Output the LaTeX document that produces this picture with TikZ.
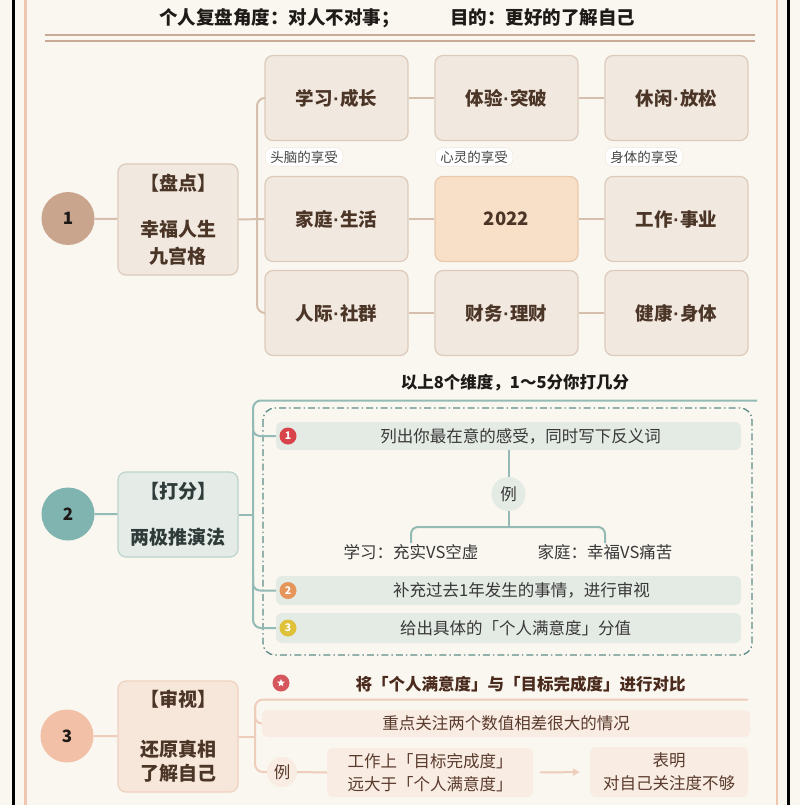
\documentclass[tikz,border=0pt]{standalone}
\usepackage{fontspec}
\setmainfont{Noto Sans CJK SC}
\newfontfamily\dotfont{Liberation Sans}
\newcommand\mdot{{\dotfont\bfseries\kern0.5pt·\kern0.5pt}}
\usetikzlibrary{arrows.meta,shapes.geometric,calc}
\definecolor{bgc}{HTML}{FAF7F0}
\definecolor{framepink}{HTML}{EFC6AF}
\definecolor{tanline}{HTML}{C9AB95}
\definecolor{gfill}{HTML}{F1E8DF}
\definecolor{gborder}{HTML}{DCCBBB}
\definecolor{pfill}{HTML}{F8DFC7}
\definecolor{pborder}{HTML}{E8C9AE}
\definecolor{btext}{HTML}{4B3527}
\definecolor{line1}{HTML}{D6BFAD}
\definecolor{circa}{HTML}{C9A58D}
\definecolor{circb}{HTML}{80B4B1}
\definecolor{circc}{HTML}{F2C0A6}
\definecolor{line2}{HTML}{93BAB5}
\definecolor{dash2}{HTML}{5F8D89}
\definecolor{fill2}{HTML}{E5ECE7}
\definecolor{border2}{HTML}{BCD3CE}
\definecolor{bar2}{HTML}{E4EAE4}
\definecolor{text2}{HTML}{383838}
\definecolor{boxtext2}{HTML}{2E3B39}
\definecolor{bred}{HTML}{D9434A}
\definecolor{borange}{HTML}{E6955B}
\definecolor{byellow}{HTML}{E0C13A}
\definecolor{fill3}{HTML}{F7E7DB}
\definecolor{border3}{HTML}{EFD1BF}
\definecolor{bar3}{HTML}{F8ECE3}
\definecolor{line3}{HTML}{EFCDBB}
\definecolor{text3}{HTML}{5A3A2C}
\definecolor{title3}{HTML}{4A2A1C}
\definecolor{starred}{HTML}{D6575B}
\definecolor{numtext}{HTML}{1E1A18}
\definecolor{tagtext}{HTML}{444444}
\begin{document}
\begin{tikzpicture}[x=1pt,y=-1pt,
  numcirc/.style={circle, minimum size=53, inner sep=0, font=\fontsize{17}{17}\selectfont\bfseries, text=numtext},
  sbox/.style={rounded corners=8, line width=1.2, align=center, inner sep=0, minimum width=120, font=\fontsize{19}{27}\selectfont\bfseries},
  gbox/.style={draw=gborder, fill=gfill, rounded corners=8, line width=1.2, minimum width=143, minimum height=85, inner sep=0, font=\fontsize{18.5}{20}\selectfont\bfseries, text=btext},
  tagbox/.style={fill=white, draw=gfill, line width=0.6, rounded corners=7, inner xsep=5, inner ysep=3, font=\fontsize{13.5}{15}\selectfont, text=tagtext},
  con1/.style={draw=line1, line width=2},
  con2/.style={draw=line2, line width=2},
  con3/.style={draw=line3, line width=2},
  titletext/.style={inner sep=0, font=\fontsize{18.5}{20}\selectfont\bfseries, text=numtext},
  bar2s/.style={fill=bar2, rounded corners=6, minimum width=465, inner sep=0, font=\fontsize{16.5}{18}\selectfont, text=text2},
  badge/.style={circle, minimum size=17, inner sep=0, font=\fontsize{10.5}{10}\selectfont\bfseries, text=white},
  plain2/.style={inner sep=1, font=\fontsize{16.5}{18}\selectfont, text=text2},
  bar3s/.style={fill=bar3, rounded corners=6, inner sep=0, align=center, font=\fontsize{16.5}{23}\selectfont, text=text3}
]
\fill[bgc] (0,0) rectangle (800,805);
\useasboundingbox (0,0) rectangle (800,805);
% frame
\draw[black, line width=3] (13.5,0) -- (13.5,805);
\draw[framepink, line width=2.5] (25.5,0) -- (25.5,805);
\draw[framepink, line width=2.5] (777,0) -- (777,805);
\draw[black, line width=3] (788,0) -- (788,805);
% title
\node[titletext, anchor=west] (t1) at (159,18) {个人复盘角度：对人不对事；};
\node[titletext, anchor=west] (t2) at (450,18) {目的：更好的了解自己};
\draw[tanline, line width=2] (45,35.5) -- (755,35.5);
\draw[tanline, line width=2] (45,41.5) -- (755,41.5);

% ---------- section 1
\node[numcirc, fill=circa] (n1) at (68,218.5) {1};
\node[sbox, draw=gborder, fill=gfill, text=btext, minimum height=111] (b1) at (178,219.5) {【盘点】\\[19pt]幸福人生\\九宫格};
\draw[con1] (n1) -- (b1);

\node[gbox] (g11) at (336.5,98) {学习\mdot 成长};
\node[gbox] (g12) at (506.5,98) {体验\mdot 突破};
\node[gbox] (g13) at (676.5,98) {休闲\mdot 放松};
\node[gbox] (g21) at (336.5,219) {家庭\mdot 生活};
\node[gbox, fill=pfill, draw=pborder] (g22) at (506.5,219) {2022};
\node[gbox] (g23) at (676.5,219) {工作\mdot 事业};
\node[gbox] (g31) at (336.5,313) {人际\mdot 社群};
\node[gbox] (g32) at (506.5,313) {财务\mdot 理财};
\node[gbox] (g33) at (676.5,313) {健康\mdot 身体};

\node[tagbox, anchor=west] (tg1) at (265,157) {头脑的享受};
\node[tagbox, anchor=west] (tg2) at (435,157) {心灵的享受};
\node[tagbox, anchor=west] (tg3) at (605,157) {身体的享受};

\draw[con1] (g11) -- (g12);
\draw[con1] (g12) -- (g13);
\draw[con1] (g21) -- (g22);
\draw[con1] (g22) -- (g23);
\draw[con1] (g31) -- (g32);
\draw[con1] (g32) -- (g33);
\draw[con1] (b1.east) -- (g21.west);
\draw[con1, rounded corners=8] (g11.west) -| (257,219) |- (g31.west);

% ---------- section 2
\node[inner sep=0, font=\fontsize{16.5}{18}\selectfont\bfseries, text=numtext] (h2) at (515,383) {以上8个维度，1～5分你打几分};
\node[numcirc, fill=circb] (n2) at (68,514) {2};
\node[sbox, draw=border2, fill=fill2, text=boxtext2, minimum height=85] (b2) at (178,514.5) {【打分】\\[19pt]两极推演法};
\draw[con2] (n2) -- (b2);

\draw[dash2, line width=1.3, dash pattern=on 7pt off 3pt on 1.5pt off 3pt, rounded corners=12] (263,408) rectangle (752,655);

\node[bar2s, minimum height=28] (i1) at (508.5,436) {\hspace*{24pt}列出你最在意的感受，同时写下反义词};
\node[bar2s, minimum height=29] (i2) at (508.5,590.5) {\hspace*{26pt}补充过去1年发生的事情，进行审视};
\node[bar2s, minimum height=30] (i3) at (508.5,628) {\hspace*{14pt}给出具体的「个人满意度」分值};
\node[badge, fill=bred] (bd1) at (288,436) {1};
\node[badge, fill=borange] (bd2) at (288,590.5) {2};
\node[badge, fill=byellow] (bd3) at (288,628) {3};

\draw[con2, rounded corners=8] (757,400.5) -| (253,520) |- (i3.west);
\draw[con2, rounded corners=7] (253,420) |- (i1.west);
\draw[con2, rounded corners=7] (253,575) |- (i2.west);
\draw[con2] (b2.east) -- (253,514.5);

\node[circle, fill=bar2, minimum size=34, inner sep=0, font=\fontsize{16.5}{18}\selectfont, text=text2] (ex2) at (508.5,494) {例};
\draw[con2] (i1.south) -- (ex2.north);
\node[plain2] (ta) at (411,552) {学习：充实VS空虚};
\node[plain2] (tb) at (605,552) {家庭：幸福VS痛苦};
\coordinate (jn) at (508.5,527);
\draw[con2] (ex2.south) -- (jn);
\draw[con2, rounded corners=7] (ta.north) |- (jn) -| (tb.north);

% ---------- section 3
\node[numcirc, fill=circc] (n3) at (67,736) {3};
\node[sbox, draw=border3, fill=fill3, text=btext, minimum height=111, font=\fontsize{19}{24}\selectfont\bfseries] (b3) at (178,736.5) {【审视】\\[26pt]还原真相\\了解自己};
\draw[con3] (n3) -- (b3);

\node[circle, fill=starred, minimum size=17, inner sep=0] (st) at (281,683) {};
\node[star, star points=5, star point ratio=2.2, fill=white, minimum size=8, inner sep=0] (sti) at (st.center) {};
\node[inner sep=0, font=\fontsize{16.5}{18}\selectfont\bfseries, text=title3] (h3) at (520.5,684) {将「个人满意度」与「目标完成度」进行对比};

\node[bar3s, minimum width=488, minimum height=27] (k1) at (506,723.5) {重点关注两个数值相差很大的情况};
\node[circle, fill=bar3, minimum size=30, inner sep=0, font=\fontsize{16.5}{18}\selectfont, text=text3] (ex3) at (282,772) {例};
\node[bar3s, minimum width=206, minimum height=49] (ka) at (430,772.5) {工作上「目标完成度」\\远大于「个人满意度」};
\node[bar3s, minimum width=158, minimum height=50] (kb) at (669,772) {表明\\对自己关注度不够};

\draw[con3, rounded corners=8] (748,699.5) -| (255,740) |- (ex3.west);
\draw[con3, rounded corners=7] (255,706) |- (k1.west);
\draw[con3] (b3.east) -- (255,736.5);
\draw[con3] (ex3.east) -- (ka.west);
\draw[con3, -{Triangle[length=7pt,width=7pt]}, shorten <=7pt, shorten >=10pt] (ka.east) -- (kb.west);
\end{tikzpicture}
\end{document}
